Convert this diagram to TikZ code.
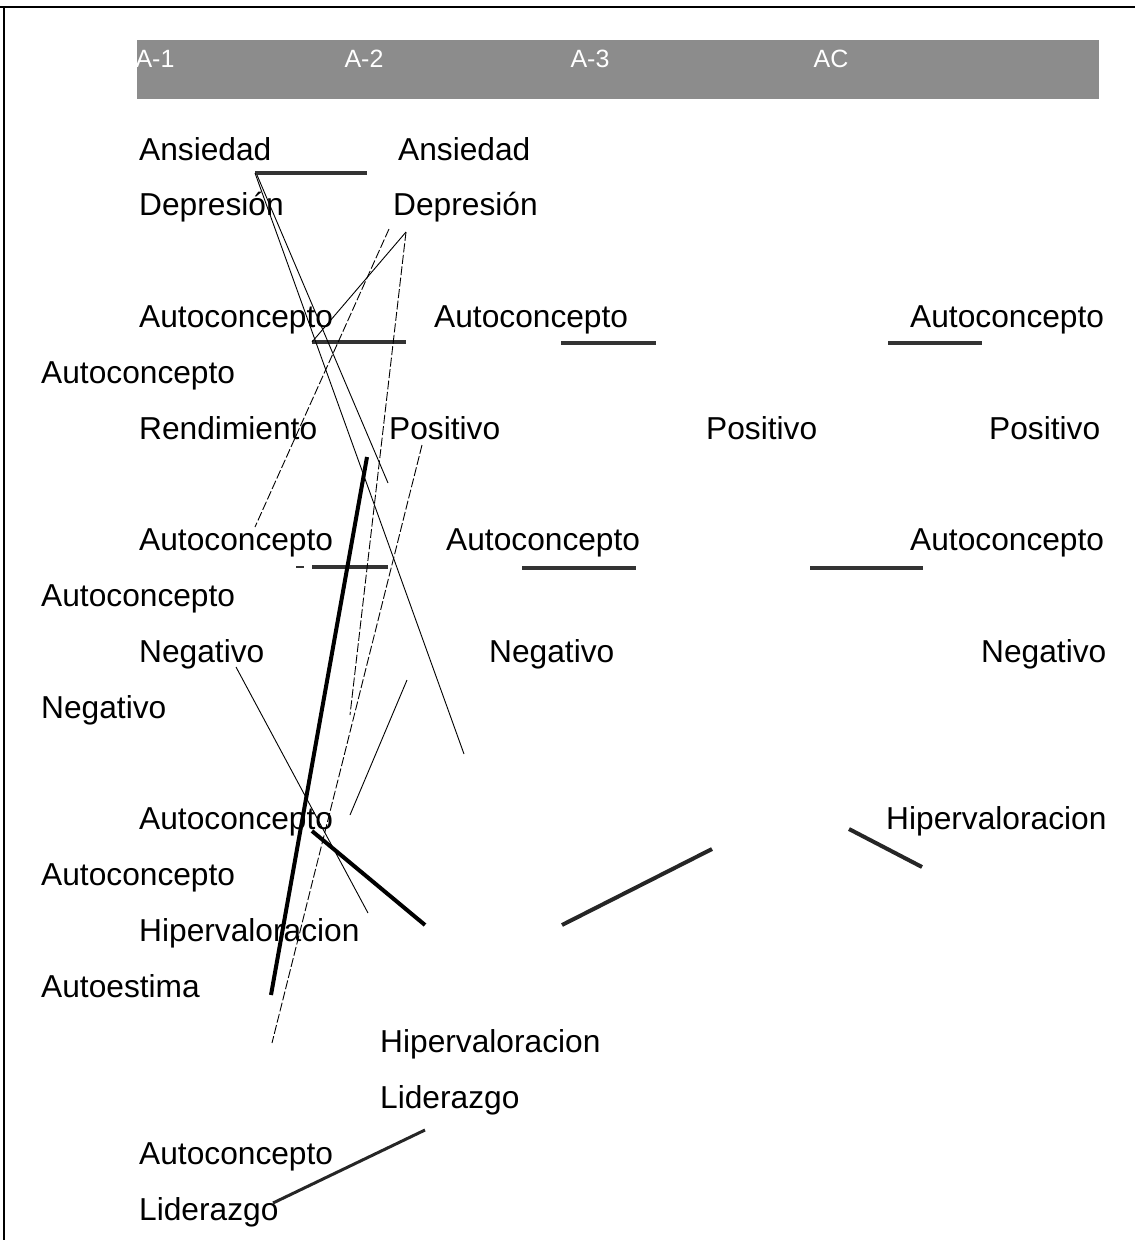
\documentclass[tikz,border=0pt]{standalone}
\usepackage{fontspec}
\setmainfont{Liberation Sans}
\begin{document}
\begin{tikzpicture}[x=1pt,y=-1pt,
  lbl/.style={anchor=base west,inner sep=0pt,font=\fontsize{31.7}{38}\selectfont},
  hdr/.style={anchor=base,inner sep=0pt,text=white,font=\fontsize{25}{30}\selectfont},
  bar/.style={line width=3.5pt,draw=black!80},
  heavy/.style={line width=4pt,draw=black},
  fine/.style={line width=0.9pt,draw=black},
  finedash/.style={line width=0.9pt,draw=black,dash pattern=on 9pt off 2.5pt},
]
\useasboundingbox (0,0) rectangle (1135,1240);

% frame edges
\draw[line width=2pt] (0,7) -- (1135,7);
\draw[line width=1.5pt] (4,7) -- (4,1240);

% header band
\fill[black!45] (137,40) rectangle (1099,99);
\node[hdr] (hA1) at (155,67) {A-1};
\node[hdr] (hA2) at (364,67) {A-2};
\node[hdr] (hA3) at (590,67) {A-3};
\node[hdr] (hAC) at (831,67) {AC};

% labels
\node[lbl] (t1)  at (139,160)    {Ansiedad};
\node[lbl] (t2)  at (398,160)    {Ansiedad};
\node[lbl] (t3)  at (139,215.8)  {Depresión};
\node[lbl] (t4)  at (393,215.8)  {Depresión};
\node[lbl] (t5)  at (139,327.4)  {Autoconcepto};
\node[lbl] (t6)  at (434,327.4)  {Autoconcepto};
\node[lbl] (t7)  at (910,327.4)  {Autoconcepto};
\node[lbl] (t8)  at (41,383.2)   {Autoconcepto};
\node[lbl] (t9)  at (139,439)    {Rendimiento};
\node[lbl] (t10) at (389,439)    {Positivo};
\node[lbl] (t11) at (706,439)    {Positivo};
\node[lbl] (t12) at (989,439)    {Positivo};
\node[lbl] (t13) at (139,550.6)  {Autoconcepto};
\node[lbl] (t14) at (446,550.6)  {Autoconcepto};
\node[lbl] (t15) at (910,550.6)  {Autoconcepto};
\node[lbl] (t16) at (41,606.4)   {Autoconcepto};
\node[lbl] (t17) at (139,662.2)  {Negativo};
\node[lbl] (t18) at (489,662.2)  {Negativo};
\node[lbl] (t19) at (981,662.2)  {Negativo};
\node[lbl] (t20) at (41,718)     {Negativo};
\node[lbl] (t21) at (139,829.6)  {Autoconcepto};
\node[lbl] (t22) at (886,829.6)  {Hipervaloracion};
\node[lbl] (t23) at (41,885.4)   {Autoconcepto};
\node[lbl] (t24) at (139,941.2)  {Hipervaloracion};
\node[lbl] (t25) at (41,997)     {Autoestima};
\node[lbl] (t26) at (380,1052.8) {Hipervaloracion};
\node[lbl] (t27) at (380,1108.6) {Liderazgo};
\node[lbl] (t28) at (139,1164.4) {Autoconcepto};
\node[lbl] (t29) at (139,1220.2) {Liderazgo};

% end points of the strokes
\coordinate (b1s) at (255,173);  \coordinate (b1e) at (367,173);
\coordinate (b2s) at (312,342);  \coordinate (b2e) at (406,342);
\coordinate (b3s) at (561,343);  \coordinate (b3e) at (656,343);
\coordinate (b4s) at (888,343);  \coordinate (b4e) at (982,343);
\coordinate (b5a) at (296,567);  \coordinate (b5b) at (304,567);
\coordinate (b5s) at (312,567);  \coordinate (b5e) at (388,567);
\coordinate (b6s) at (522,568);  \coordinate (b6e) at (636,568);
\coordinate (b7s) at (810,568);  \coordinate (b7e) at (923,568);

\coordinate (h1s) at (367,457);  \coordinate (h1e) at (271,995);
\coordinate (h2s) at (312,831);  \coordinate (h2e) at (425,925);
\coordinate (h3s) at (562,925);  \coordinate (h3e) at (712,849);
\coordinate (h4s) at (849,829);  \coordinate (h4e) at (922,867);
\coordinate (h5s) at (273,1203); \coordinate (h5e) at (425,1130);

\coordinate (dR)  at (406,232);
\coordinate (dL)  at (389,229);
\coordinate (aS)  at (257,175);
\coordinate (aE)  at (464,754);
\coordinate (bE)  at (388,483);
\coordinate (cE)  at (350,715);
\coordinate (eE)  at (255,527);
\coordinate (pS)  at (422,445);
\coordinate (pE)  at (272,1043);
\coordinate (gS)  at (407,680);
\coordinate (gE)  at (350,815);
\coordinate (nS)  at (236,667);
\coordinate (nE)  at (368,913);

% underline bars
\draw[bar] (b1s) -- (b1e);
\draw[bar] (b2s) -- (b2e);
\draw[bar] (b3s) -- (b3e);
\draw[bar] (b4s) -- (b4e);
\draw[bar,line width=1.5pt] (b5a) -- (b5b);
\draw[bar] (b5s) -- (b5e);
\draw[bar] (b6s) -- (b6e);
\draw[bar] (b7s) -- (b7e);

% heavy strokes
\draw[heavy] (h1s) -- (h1e);
\draw[heavy] (h2s) -- (h2e);
\draw[heavy,draw=black!85] (h3s) -- (h3e);
\draw[heavy,draw=black!85] (h4s) -- (h4e);
\draw[heavy,line width=3pt,draw=black!85] (h5s) -- (h5e);

% thin strokes
\draw[fine] (b1s) -- (aE);
\draw[fine] (aS) -- (bE);
\draw[finedash] (dR) -- (cE);
\draw[fine] (dR) -- (b2s);
\draw[finedash] (dL) -- (eE);
\draw[finedash] (pS) -- (pE);
\draw[fine] (gS) -- (gE);
\draw[fine] (nS) -- (nE);
\end{tikzpicture}
\end{document}
